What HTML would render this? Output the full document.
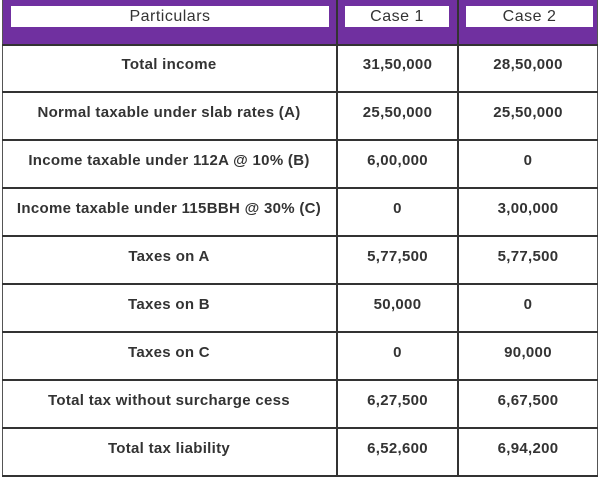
<!DOCTYPE html>
<html><head><style>
body{margin:0;width:600px;height:480px;background:#fff;position:relative;font-family:"Liberation Sans",sans-serif;overflow:hidden}
.hdr{position:absolute;left:2px;top:0;width:596px;height:45px;background:#7030a0}
.box{position:absolute;top:6px;height:21px;background:#fff;color:#333;font-size:16px;letter-spacing:0.5px;line-height:22px;text-align:center}
.vl{position:absolute;width:2px;background:#333;top:0;height:477px}
.hl{position:absolute;left:2px;width:596px;height:2px;background:#333}
.t{position:absolute;height:48px;line-height:42px;text-align:center;font-size:15px;letter-spacing:0.3px;font-weight:bold;color:#333;white-space:nowrap}
</style></head><body>
<div class="hdr"></div>
<div class="box" style="left:11px;width:318px">Particulars</div>
<div class="box" style="left:345px;width:104px">Case 1</div>
<div class="box" style="left:466px;width:127px">Case 2</div>
<div class="vl" style="left:2px;width:1px;background:#555"></div>
<div class="vl" style="left:336px"></div>
<div class="vl" style="left:457px"></div>
<div class="vl" style="left:597px;width:1px;background:#555"></div>
<div class="hl" style="top:44px"></div>
<div class="hl" style="top:91px"></div>
<div class="hl" style="top:139px"></div>
<div class="hl" style="top:187px"></div>
<div class="hl" style="top:235px"></div>
<div class="hl" style="top:283px"></div>
<div class="hl" style="top:331px"></div>
<div class="hl" style="top:379px"></div>
<div class="hl" style="top:427px"></div>
<div class="hl" style="top:475px"></div>
<div class="t" style="left:2px;width:334px;top:44px">Total income</div><div class="t" style="left:338px;width:119px;top:44px">31,50,000</div><div class="t" style="left:459px;width:138px;top:44px">28,50,000</div>
<div class="t" style="left:2px;width:334px;top:92px">Normal taxable under slab rates (A)</div><div class="t" style="left:338px;width:119px;top:92px">25,50,000</div><div class="t" style="left:459px;width:138px;top:92px">25,50,000</div>
<div class="t" style="left:2px;width:334px;top:140px">Income taxable under 112A @ 10% (B)</div><div class="t" style="left:338px;width:119px;top:140px">6,00,000</div><div class="t" style="left:459px;width:138px;top:140px">0</div>
<div class="t" style="left:2px;width:334px;top:188px">Income taxable under 115BBH @ 30% (C)</div><div class="t" style="left:338px;width:119px;top:188px">0</div><div class="t" style="left:459px;width:138px;top:188px">3,00,000</div>
<div class="t" style="left:2px;width:334px;top:236px">Taxes on A</div><div class="t" style="left:338px;width:119px;top:236px">5,77,500</div><div class="t" style="left:459px;width:138px;top:236px">5,77,500</div>
<div class="t" style="left:2px;width:334px;top:284px">Taxes on B</div><div class="t" style="left:338px;width:119px;top:284px">50,000</div><div class="t" style="left:459px;width:138px;top:284px">0</div>
<div class="t" style="left:2px;width:334px;top:332px">Taxes on C</div><div class="t" style="left:338px;width:119px;top:332px">0</div><div class="t" style="left:459px;width:138px;top:332px">90,000</div>
<div class="t" style="left:2px;width:334px;top:380px">Total tax without surcharge cess</div><div class="t" style="left:338px;width:119px;top:380px">6,27,500</div><div class="t" style="left:459px;width:138px;top:380px">6,67,500</div>
<div class="t" style="left:2px;width:334px;top:428px">Total tax liability</div><div class="t" style="left:338px;width:119px;top:428px">6,52,600</div><div class="t" style="left:459px;width:138px;top:428px">6,94,200</div>
</body></html>
